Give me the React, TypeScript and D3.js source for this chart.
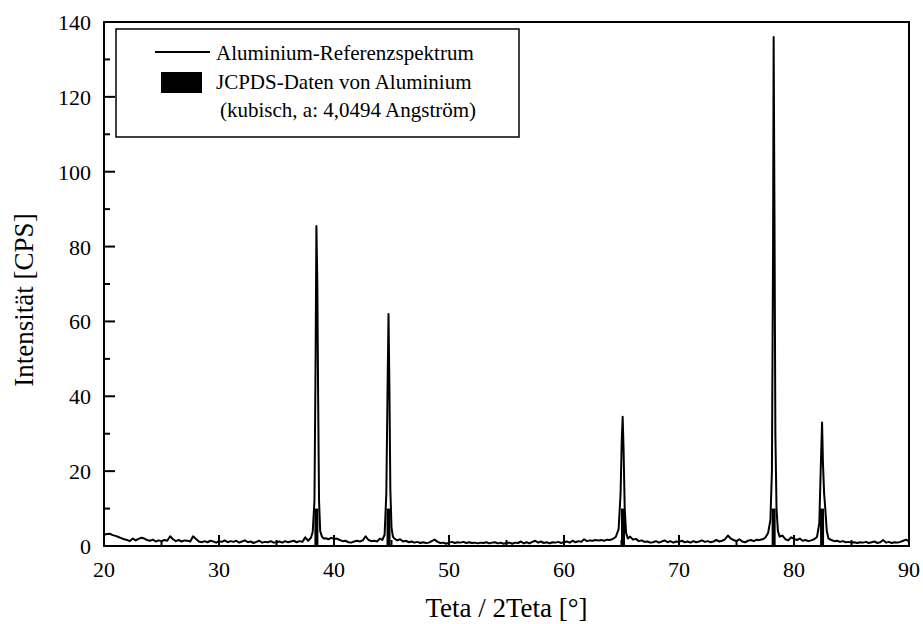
import React from "react";
import * as d3 from "d3";

const W = 923;
const H = 624;
const PLOT = { left: 104, top: 22, right: 909, bottom: 546 };

const xDomain: [number, number] = [20, 90];
const yDomain: [number, number] = [0, 140];
const xMajorTicks = [20, 30, 40, 50, 60, 70, 80, 90];
const xMinorTicks = [25, 35, 45, 55, 65, 75, 85];
const yMajorTicks = [0, 20, 40, 60, 80, 100, 120, 140];
const yMinorTicks = [10, 30, 50, 70, 90, 110, 130];

const xTitle = "Teta / 2Teta [°]";
const yTitle = "Intensität [CPS]";
const legendLine1 = "Aluminium-Referenzspektrum";
const legendLine2 = "JCPDS-Daten von Aluminium";
const legendLine3 = "(kubisch, a: 4,0494 Angström)";

// JCPDS reference lines for aluminium
const jcpdsPositions = [38.47, 44.74, 65.13, 78.23, 82.44];
const jcpdsIntensities = [10, 10, 10, 10, 10];

// measured spectrum [2theta, CPS]
const spectrum: [number, number][] = [
  [20.0, 3.0], [20.25, 3.2], [20.5, 3.3], [20.75, 2.9], [21.0, 2.7], [21.25, 2.4], [21.5, 2.1], [21.75, 1.8],
  [22.0, 1.6], [22.25, 1.3], [22.5, 2.0], [22.75, 1.5], [23.0, 1.9], [23.25, 2.2], [23.5, 2.0], [23.75, 1.6],
  [24.0, 1.4], [24.25, 1.7], [24.5, 1.2], [24.75, 1.5], [25.0, 1.3], [25.25, 1.6], [25.5, 1.4], [25.75, 2.6],
  [26.0, 1.8], [26.25, 1.3], [26.5, 1.6], [26.75, 1.2], [27.0, 1.5], [27.25, 1.4], [27.5, 1.2], [27.75, 2.6],
  [28.0, 1.9], [28.25, 1.2], [28.5, 1.0], [28.75, 1.3], [29.0, 1.0], [29.25, 1.4], [29.5, 1.2], [29.75, 0.9],
  [30.0, 1.3], [30.25, 1.1], [30.5, 1.5], [30.75, 1.0], [31.0, 1.3], [31.25, 1.1], [31.5, 1.4], [31.75, 0.9],
  [32.0, 1.2], [32.25, 1.5], [32.5, 1.0], [32.75, 1.2], [33.0, 0.8], [33.25, 1.1], [33.5, 1.4], [33.75, 0.9],
  [34.0, 1.1], [34.25, 1.0], [34.5, 1.3], [34.75, 0.9], [35.0, 1.0], [35.25, 1.2], [35.5, 0.9], [35.75, 1.3],
  [36.0, 1.0], [36.25, 1.2], [36.5, 1.4], [36.75, 1.0], [37.0, 1.3], [37.25, 1.1], [37.5, 2.3], [37.75, 1.4],
  [38.0, 2.2], [38.15, 3.8], [38.3, 12], [38.4, 50], [38.47, 85.5], [38.55, 70], [38.62, 40], [38.7, 12],
  [38.8, 4], [38.95, 2.5], [39.1, 2.0], [39.3, 2.1], [39.5, 1.8], [39.75, 2.2], [40.0, 1.9], [40.25, 2.0],
  [40.5, 1.6], [40.75, 1.3], [41.0, 1.4], [41.25, 1.0], [41.5, 0.9], [41.75, 1.2], [42.0, 1.4], [42.25, 1.2],
  [42.5, 1.5], [42.75, 2.6], [43.0, 1.6], [43.25, 1.3], [43.5, 1.4], [43.75, 1.2], [44.0, 2.0], [44.2, 1.6],
  [44.4, 3.0], [44.55, 14], [44.65, 40], [44.74, 62], [44.82, 42], [44.9, 15], [45.0, 5], [45.12, 2.5],
  [45.25, 2.0], [45.5, 1.5], [45.75, 1.8], [46.0, 1.2], [46.25, 1.4], [46.5, 1.0], [46.75, 1.2], [47.0, 0.9],
  [47.25, 1.1], [47.5, 0.8], [47.75, 1.0], [48.0, 0.8], [48.25, 0.9], [48.5, 1.3], [48.75, 1.7], [49.0, 1.1],
  [49.25, 0.8], [49.5, 0.9], [49.75, 0.6], [50.0, 0.9], [50.25, 1.1], [50.5, 0.8], [50.75, 1.0], [51.0, 0.9],
  [51.25, 1.1], [51.5, 0.8], [51.75, 1.0], [52.0, 0.8], [52.25, 0.9], [52.5, 0.7], [52.75, 0.9], [53.0, 0.8],
  [53.25, 1.0], [53.5, 0.7], [53.75, 0.9], [54.0, 1.0], [54.25, 0.7], [54.5, 0.9], [54.75, 0.6], [55.0, 0.8],
  [55.25, 0.9], [55.5, 0.6], [55.75, 0.9], [56.0, 0.8], [56.25, 1.2], [56.5, 0.7], [56.75, 1.0], [57.0, 0.7],
  [57.25, 1.1], [57.5, 1.4], [57.75, 0.9], [58.0, 1.2], [58.25, 0.8], [58.5, 1.0], [58.75, 0.7], [59.0, 1.0],
  [59.25, 0.9], [59.5, 1.1], [59.75, 0.8], [60.0, 1.0], [60.25, 1.2], [60.5, 0.9], [60.75, 1.4], [61.0, 1.0],
  [61.25, 1.3], [61.5, 1.1], [61.75, 1.8], [62.0, 1.3], [62.25, 1.5], [62.5, 1.4], [62.75, 1.6], [63.0, 1.5],
  [63.25, 1.6], [63.5, 1.4], [63.75, 1.7], [64.0, 1.6], [64.25, 1.9], [64.5, 2.4], [64.75, 4.5], [64.92, 14],
  [65.02, 28], [65.1, 34.5], [65.18, 26], [65.28, 10], [65.4, 3.5], [65.55, 2.0], [65.75, 2.5], [66.0, 1.7],
  [66.25, 1.9], [66.5, 1.3], [66.75, 1.5], [67.0, 1.1], [67.25, 1.2], [67.5, 0.9], [67.75, 1.0], [68.0, 1.3],
  [68.25, 0.9], [68.5, 1.2], [68.75, 1.5], [69.0, 1.0], [69.25, 1.3], [69.5, 0.9], [69.75, 1.2], [70.0, 1.1],
  [70.25, 1.4], [70.5, 1.0], [70.75, 1.2], [71.0, 0.9], [71.25, 1.3], [71.5, 1.0], [71.75, 1.2], [72.0, 1.5],
  [72.25, 1.1], [72.5, 1.3], [72.75, 1.0], [73.0, 1.2], [73.25, 1.6], [73.5, 1.2], [73.75, 1.4], [74.0, 1.8],
  [74.25, 2.8], [74.5, 2.0], [74.75, 1.6], [75.0, 1.3], [75.25, 1.8], [75.5, 1.2], [75.75, 1.0], [76.0, 1.4],
  [76.25, 1.6], [76.5, 1.3], [76.75, 1.7], [77.0, 1.6], [77.25, 1.8], [77.5, 2.2], [77.75, 3.5], [77.95, 7],
  [78.08, 20], [78.18, 80], [78.23, 136], [78.3, 90], [78.38, 30], [78.48, 10], [78.6, 4], [78.75, 2.5],
  [79.0, 2.8], [79.25, 1.8], [79.5, 1.5], [79.75, 2.3], [80.0, 1.9], [80.25, 1.6], [80.5, 2.0], [80.75, 1.4],
  [81.0, 1.6], [81.25, 1.3], [81.5, 1.5], [81.75, 1.8], [82.0, 2.4], [82.2, 6], [82.32, 20], [82.44, 33],
  [82.52, 22], [82.62, 14], [82.72, 10], [82.85, 4], [83.0, 2.0], [83.25, 1.6], [83.5, 1.3], [83.75, 1.4],
  [84.0, 1.1], [84.25, 1.3], [84.5, 1.0], [84.75, 1.1], [85.0, 0.9], [85.25, 1.0], [85.5, 0.8], [85.75, 1.0],
  [86.0, 0.9], [86.25, 1.1], [86.5, 0.8], [86.75, 1.0], [87.0, 1.2], [87.25, 0.8], [87.5, 1.0], [87.75, 1.6],
  [88.0, 0.9], [88.25, 1.1], [88.5, 0.8], [88.75, 1.0], [89.0, 0.9], [89.25, 1.1], [89.5, 1.4], [89.75, 1.7],
  [90.0, 1.2],
];

const FONT = "'Liberation Serif', 'Times New Roman', serif";

export default function App() {
  const x = d3.scaleLinear().domain(xDomain).range([PLOT.left, PLOT.right]);
  const y = d3.scaleLinear().domain(yDomain).range([PLOT.bottom, PLOT.top]);
  const line = d3
    .line<[number, number]>()
    .x((d) => x(d[0]))
    .y((d) => y(d[1]));

  const majorLen = 11;
  const minorLen = 6;
  const barW = 4;

  return (
    <svg
      width={W}
      height={H}
      style={{ position: "fixed", left: 0, top: 0, background: "#fff" }}
      fontFamily={FONT}
    >
      <rect x={0} y={0} width={W} height={H} fill="#fff" />
      {/* spectrum */}
      <path d={line(spectrum) || ""} fill="none" stroke="#000" strokeWidth={2} strokeLinejoin="round" />
      {/* JCPDS bars */}
      {jcpdsPositions.map((p, i) => (
        <rect
          key={"b" + i}
          x={x(p) - barW / 2}
          y={y(jcpdsIntensities[i])}
          width={barW}
          height={y(0) - y(jcpdsIntensities[i])}
          fill="#000"
        />
      ))}
      {/* frame */}
      <rect
        x={PLOT.left}
        y={PLOT.top}
        width={PLOT.right - PLOT.left}
        height={PLOT.bottom - PLOT.top}
        fill="none"
        stroke="#000"
        strokeWidth={2}
      />
      {/* x ticks */}
      {xMajorTicks.map((t) => (
        <g key={"xt" + t}>
          <line x1={x(t)} x2={x(t)} y1={PLOT.bottom} y2={PLOT.bottom - majorLen} stroke="#000" strokeWidth={2} />
          <text x={x(t)} y={577} textAnchor="middle" fontSize={22}>
            {t}
          </text>
        </g>
      ))}
      {xMinorTicks.map((t) => (
        <line key={"xm" + t} x1={x(t)} x2={x(t)} y1={PLOT.bottom} y2={PLOT.bottom - minorLen} stroke="#000" strokeWidth={2} />
      ))}
      {/* y ticks */}
      {yMajorTicks.map((t) => (
        <g key={"yt" + t}>
          <line x1={PLOT.left} x2={PLOT.left + majorLen} y1={y(t)} y2={y(t)} stroke="#000" strokeWidth={2} />
          <text x={91} y={y(t) + 8} textAnchor="end" fontSize={22}>
            {t}
          </text>
        </g>
      ))}
      {yMinorTicks.map((t) => (
        <line key={"ym" + t} x1={PLOT.left} x2={PLOT.left + minorLen} y1={y(t)} y2={y(t)} stroke="#000" strokeWidth={2} />
      ))}
      {/* axis titles */}
      <text x={(PLOT.left + PLOT.right) / 2} y={617} textAnchor="middle" fontSize={27}>
        {xTitle}
      </text>
      <text
        transform={`translate(33, ${(PLOT.top + PLOT.bottom) / 2 + 16}) rotate(-90)`}
        textAnchor="middle"
        fontSize={27}
      >
        {yTitle}
      </text>
      {/* legend */}
      <g>
        <rect x={116} y={29} width={403} height={108} fill="#fff" stroke="#000" strokeWidth={1.5} />
        <line x1={155} x2={210} y1={52} y2={52} stroke="#000" strokeWidth={2} />
        <text x={216} y={60} fontSize={21}>
          {legendLine1}
        </text>
        <rect x={161} y={72} width={41} height={21} fill="#000" />
        <text x={216} y={89} fontSize={21}>
          {legendLine2}
        </text>
        <text x={220} y={117} fontSize={21}>
          {legendLine3}
        </text>
      </g>
    </svg>
  );
}
